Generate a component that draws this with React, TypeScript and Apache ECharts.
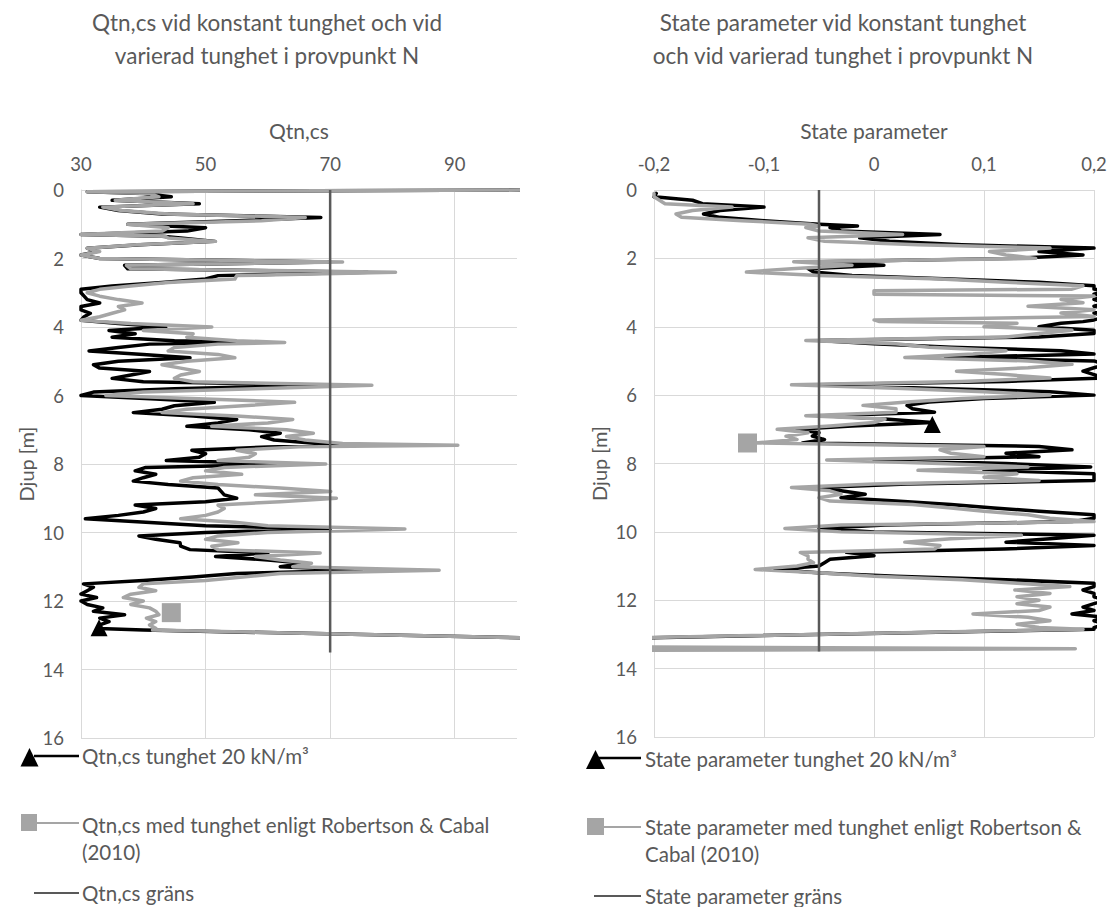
import React, { useEffect, useRef } from "react";
import * as echarts from "echarts";

// ---------- Left panel: Qtn,cs ----------
const depthQ = [
  0, 0.05, 0.1, 0.2, 0.3, 0.4, 0.5, 0.6, 0.7, 0.8, 0.9,
  1.0, 1.1, 1.2, 1.3, 1.35, 1.4, 1.5, 1.6, 1.7, 1.8, 1.9,
  2.0, 2.1, 2.2, 2.3, 2.4, 2.5, 2.6, 2.7, 2.8, 2.9,
  3.0, 3.1, 3.2, 3.3, 3.4, 3.5, 3.6, 3.7, 3.8, 3.9,
  4.0, 4.1, 4.2, 4.3, 4.4, 4.45, 4.5, 4.6, 4.7, 4.8, 4.9,
  5.0, 5.1, 5.2, 5.3, 5.4, 5.5, 5.6, 5.7, 5.8, 5.9,
  6.0, 6.1, 6.2, 6.3, 6.4, 6.5, 6.6, 6.7, 6.8, 6.9,
  7.0, 7.1, 7.2, 7.3, 7.4, 7.45, 7.5, 7.6, 7.7, 7.8, 7.9,
  8.0, 8.1, 8.2, 8.3, 8.4, 8.5, 8.6, 8.7, 8.8, 8.9,
  9.0, 9.1, 9.2, 9.3, 9.4, 9.5, 9.6, 9.7, 9.8, 9.9,
  10.0, 10.1, 10.2, 10.3, 10.4, 10.5, 10.6, 10.7, 10.8, 10.9,
  11.0, 11.1, 11.2, 11.3, 11.4, 11.5, 11.6, 11.7, 11.8, 11.9,
  12.0, 12.1, 12.2, 12.3, 12.4, 12.5, 12.6, 12.7, 12.8, 12.85, 13.1,
];
// Qtn,cs tunghet 20 kN/m3 (black)
const qtnConst = [
  103, 31, 40, 44.5, 35, 49, 33, 36, 43, 68.5, 55,
  37.5, 50, 47, 30, 43, 46, 51.5, 39.5, 31, 32.5, 30,
  33, 70, 37, 37.5, 76, 52, 50, 43, 35, 30,
  30, 30.5, 31, 33, 30, 30, 31.5, 30.5, 30, 36,
  43.6, 34.5, 38.7, 35, 45, 58, 41, 36, 31.3, 40, 47.5,
  36, 32, 33, 41, 38, 35, 40, 70, 45, 32,
  30, 42, 51.4, 45, 43, 38.4, 48, 55, 52, 47,
  57, 62, 59, 61, 68, 72, 60, 47.8, 50, 49, 43.7,
  65, 40.4, 38.7, 42, 40, 38.4, 44, 52, 52.5, 53,
  55, 50, 38.7, 42, 40, 36, 30.7, 40.4, 50, 70,
  50, 39.3, 42, 45.9, 46, 47.5, 60, 51.6, 60, 66,
  62, 75, 55, 48, 40, 30.4, 32, 31, 30, 32.5,
  30, 31, 33.5, 32, 37, 33, 34.5, 33, 32.9, 40, 108,
];
// Qtn,cs med tunghet enligt Robertson & Cabal (2010) (grey)
const qtnRC = [
  104, 31, 41, 42.5, 35.5, 48, 33.5, 36.5, 44, 66, 59,
  37.5, 44, 43, 30, 43.5, 44, 51.6, 39, 31, 33, 30,
  33, 72, 37.3, 38, 80.5, 55, 54.7, 44, 38, 33,
  31, 33, 36, 39.8, 36, 37, 35, 33, 30, 38,
  51, 40, 48, 47, 55, 62.7, 52, 45, 44, 52, 54.7,
  47, 43, 46, 49, 46, 45, 48, 76.7, 58, 40,
  34, 50, 64.3, 56, 47, 43, 55, 64, 60, 51,
  63, 67.3, 63, 66, 72, 90.5, 65, 55, 58, 57, 52,
  69.3, 53, 50, 55.8, 48, 46, 52, 62, 70.1, 58,
  71, 62, 52, 53, 52, 50, 46, 54.7, 60, 82,
  60, 52, 50, 55.2, 51, 52, 68.4, 58, 62, 67,
  64, 87.5, 62, 56, 50, 40, 39.3, 42, 38, 36.8,
  40, 38, 41, 42, 42.5, 40.5, 42, 41, 42, 41.5, 108,
];
const qtnLimit = 70;
const limitDepths = [0, 13.5];
const qtnConstMarker = [32.9, 12.78];
const qtnRCMarker = [44.5, 12.34];

// ---------- Right panel: State parameter ----------
const depthS = [
  0.1, 0.2, 0.3, 0.4, 0.5, 0.6, 0.7, 0.8, 0.9,
  1.0, 1.05, 1.1, 1.2, 1.3, 1.4, 1.5, 1.6, 1.7, 1.8, 1.9,
  2.0, 2.1, 2.2, 2.3, 2.4, 2.5, 2.6, 2.7, 2.8, 2.9, 2.95,
  3.05, 3.1, 3.2, 3.3, 3.4, 3.5, 3.6, 3.7, 3.8, 3.85, 3.9,
  4.0, 4.1, 4.2, 4.3, 4.4, 4.5, 4.6, 4.7, 4.8, 4.9,
  5.0, 5.1, 5.2, 5.3, 5.4, 5.5, 5.6, 5.7, 5.8, 5.9,
  6.0, 6.1, 6.2, 6.3, 6.4, 6.5, 6.6, 6.7, 6.8, 6.9,
  7.0, 7.1, 7.2, 7.3, 7.4, 7.5, 7.6, 7.7, 7.8, 7.9,
  8.0, 8.1, 8.2, 8.3, 8.4, 8.5, 8.6, 8.7, 8.8, 8.9,
  9.0, 9.1, 9.2, 9.3, 9.4, 9.5, 9.6, 9.7, 9.8, 9.9,
  10.0, 10.1, 10.2, 10.3, 10.4, 10.5, 10.6, 10.7, 10.8, 10.9,
  11.0, 11.1, 11.2, 11.3, 11.4, 11.5, 11.6, 11.7, 11.8, 11.9,
  12.0, 12.1, 12.2, 12.3, 12.4, 12.5, 12.6, 12.7, 12.8, 12.85,
  13.1, 13.36, 13.42, 13.47,
];
// State parameter tunghet 20 kN/m3 (black)
const stateConst: (number | null)[] = [
  -0.198, -0.2, -0.165, -0.156, -0.1, -0.14, -0.155, -0.14, -0.1,
  -0.05, -0.015, -0.04, -0.03, 0.06, -0.013, 0.014, 0.08, 0.2, 0.15, 0.19,
  0.128, -0.05, 0.009, -0.06, -0.055, -0.02, 0.07, 0.15, 0.2, 0.2, 0.21,
  0.2, 0.21, 0.2, 0.21, 0.2, 0.22, 0.2, 0.21, 0.2, 0.19, 0.17,
  0.15, 0.2, 0.2, 0.15, -0.05, 0.0, 0.07, 0.17, 0.2, 0.065,
  0.2, 0.21, 0.2, 0.19, 0.2, 0.21, 0.12, -0.05, 0.05, 0.16,
  0.2, 0.1, 0.05, 0.03, 0.035, 0.055, -0.045, 0.01, 0.053, -0.02,
  -0.07, -0.05, -0.056, -0.045, -0.065, 0.15, 0.18, 0.12, 0.15, 0.0,
  0.12, 0.197, 0.1, 0.2, 0.2, 0.2, 0.03, -0.05, -0.03, -0.008,
  -0.03, 0.02, 0.07, 0.109, 0.15, 0.2, 0.2, 0.18, 0.01, -0.05,
  0.0, 0.2, 0.16, 0.12, 0.2, 0.118, -0.025, 0.0, -0.04, -0.045,
  -0.05, -0.09, -0.048, 0.02, 0.12, 0.2, 0.2, 0.19, 0.2, 0.2,
  0.21, 0.2, 0.19, 0.2, 0.18, 0.21, 0.2, 0.21, 0.2, 0.2,
  -0.21, null, null, null,
];
// State parameter med tunghet enligt Robertson & Cabal (2010) (grey)
const stateRC: (number | null)[] = [
  -0.2, -0.2, -0.195, -0.19, -0.129, -0.165, -0.18, -0.175, -0.12,
  -0.058, -0.05, -0.062, -0.05, 0.026, -0.06, -0.045, 0.04, 0.16, 0.105, 0.12,
  0.147, -0.073, -0.02, -0.075, -0.116, -0.05, 0.06, 0.12, 0.19, 0.18, 0.0,
  0.0, 0.2, 0.17, 0.19, 0.14, 0.2, 0.17, 0.2, 0.0, 0.005, 0.13,
  0.1, 0.18, 0.15, 0.12, -0.062, 0.02, 0.05, 0.12, 0.09, 0.028,
  0.14, 0.18, 0.14, 0.075, 0.12, 0.16, 0.08, -0.075, 0.02, 0.1,
  0.16, 0.08, 0.03, -0.01, 0.02, 0.02, -0.062, 0.01, 0.0, -0.04,
  -0.088, -0.06, -0.08, -0.07, -0.108, 0.1, 0.06, 0.07, 0.1, -0.043,
  0.06, 0.14, 0.04, 0.13, 0.1, 0.15, 0.0, -0.075, -0.04, -0.03,
  -0.05, -0.04, 0.035, 0.07, 0.1, 0.14, 0.16, 0.2, -0.03, -0.081,
  -0.03, 0.134, 0.07, 0.028, 0.06, 0.055, -0.067, -0.06, -0.06, -0.055,
  -0.07, -0.108, -0.048, 0.0, 0.08, 0.13, 0.178, 0.128, 0.16, 0.13,
  0.15, 0.13, 0.16, 0.15, 0.09, 0.14, 0.16, 0.13, 0.15, 0.19,
  -0.22, -0.25, 0.183, -0.25,
];
const stateLimit = -0.05;
const stateConstMarker = [0.053, 6.86];
const stateRCMarker = [-0.115, 7.4];

const FONT = 'Lato, "Noto Sans", sans-serif';
const TXT = "#595959";
const GRID = "#D9D9D9";
const BLACK = "#000000";
const GREY = "#A5A5A5";
const LIMIT = "#595959";

function pairs(vals: (number | null)[], depths: number[]) {
  const out: [number, number][] = [];
  vals.forEach((v, i) => {
    if (v !== null && v !== undefined) out.push([v, depths[i]]);
  });
  return out;
}

function dataSeries(
  name: string,
  idx: number,
  vals: (number | null)[],
  depths: number[],
  color: string,
  marker: number[],
  symbol: string,
  size: number
) {
  return {
    type: "line",
    name,
    xAxisIndex: idx,
    yAxisIndex: idx,
    data: pairs(vals, depths),
    showSymbol: false,
    symbol: "none",
    clip: true,
    silent: true,
    lineStyle: { color, width: 3.5, join: "round", cap: "round" },
    itemStyle: { color },
    markPoint: {
      silent: true,
      symbol,
      symbolSize: size,
      itemStyle: { color },
      label: { show: false },
      data: [{ coord: marker }],
    },
    z: 3,
  };
}

function limitSeries(name: string, idx: number, x: number) {
  return {
    type: "line",
    name,
    xAxisIndex: idx,
    yAxisIndex: idx,
    data: limitDepths.map((d) => [x, d]),
    showSymbol: false,
    symbol: "none",
    silent: true,
    lineStyle: { color: LIMIT, width: 2.5 },
    z: 4,
  };
}

const commaFmt = (v: number) => String(Math.round(v * 10) / 10).replace(".", ",");

const yAxisBase = {
  type: "value",
  inverse: true,
  min: 0,
  max: 16,
  interval: 2,
  name: "Djup [m]",
  nameLocation: "middle",
  nameGap: 45,
  nameTextStyle: { color: TXT, fontSize: 20, fontFamily: FONT },
  axisLine: { show: true, lineStyle: { color: GRID, width: 1 } },
  axisTick: { show: false },
  axisLabel: { color: TXT, fontSize: 18.5, fontFamily: FONT, margin: 17 },
  splitLine: { show: true, lineStyle: { color: GRID, width: 1 } },
};

function legendText(x: number, y: number, text: string, top = false) {
  return {
    type: "text",
    x,
    y,
    silent: true,
    style: {
      text,
      fill: TXT,
      fontSize: 20.5,
      fontFamily: FONT,
      lineHeight: 27,
      align: "left",
      verticalAlign: top ? "top" : "middle",
    },
  };
}

function hLine(x1: number, x2: number, y: number, color: string, w: number) {
  return {
    type: "line",
    silent: true,
    shape: { x1, y1: y, x2, y2: y },
    style: { stroke: color, lineWidth: w },
  };
}

function titleText(x: number, text: string) {
  return {
    type: "text",
    x,
    y: 6,
    silent: true,
    style: {
      text,
      fill: TXT,
      fontSize: 22.5,
      fontFamily: FONT,
      lineHeight: 33,
      align: "center",
      verticalAlign: "top",
    },
  };
}

export default function App() {
  const ref = useRef<HTMLDivElement>(null);

  useEffect(() => {
    document.body.style.margin = "0";
    if (!ref.current) return;
    const chart = echarts.init(ref.current, undefined, { renderer: "svg" });

    const option: any = {
      animation: false,
      backgroundColor: "#ffffff",
      grid: [
        { left: 81, top: 190, width: 436, height: 548, containLabel: false, outerBoundsMode: "none" },
        { left: 654, top: 190, width: 440, height: 547, containLabel: false, outerBoundsMode: "none" },
      ],
      xAxis: [
        {
          type: "value",
          gridIndex: 0,
          position: "top",
          min: 30,
          max: 100,
          interval: 20,
          name: "Qtn,cs",
          nameLocation: "middle",
          nameGap: 49,
          nameTextStyle: { color: TXT, fontSize: 21, fontFamily: FONT },
          axisLine: { show: false },
          axisTick: { show: false },
          axisLabel: { color: TXT, fontSize: 18.5, fontFamily: FONT, margin: 17, showMaxLabel: false },
          splitLine: { show: true, showMaxLine: false, lineStyle: { color: GRID, width: 1 } },
        },
        {
          type: "value",
          gridIndex: 1,
          position: "top",
          min: -0.2,
          max: 0.2,
          interval: 0.1,
          name: "State parameter",
          nameLocation: "middle",
          nameGap: 49,
          nameTextStyle: { color: TXT, fontSize: 21, fontFamily: FONT },
          axisLine: { show: false },
          axisTick: { show: false },
          axisLabel: { color: TXT, fontSize: 18.5, fontFamily: FONT, margin: 17, formatter: commaFmt },
          splitLine: { show: true, lineStyle: { color: GRID, width: 1 } },
        },
      ],
      yAxis: [
        { ...yAxisBase, gridIndex: 0 },
        { ...yAxisBase, gridIndex: 1 },
      ],
      series: [
        dataSeries("Qtn,cs tunghet 20 kN/m³", 0, qtnConst, depthQ, BLACK, qtnConstMarker, "triangle", 17),
        dataSeries("Qtn,cs med tunghet enligt Robertson & Cabal (2010)", 0, qtnRC, depthQ, GREY, qtnRCMarker, "rect", 19),
        limitSeries("Qtn,cs gräns", 0, qtnLimit),
        dataSeries("State parameter tunghet 20 kN/m³", 1, stateConst, depthS, BLACK, stateConstMarker, "triangle", 17),
        dataSeries("State parameter med tunghet enligt Robertson & Cabal (2010)", 1, stateRC, depthS, GREY, stateRCMarker, "rect", 19),
        limitSeries("State parameter gräns", 1, stateLimit),
      ],
      graphic: [
        titleText(267, "Qtn,cs vid konstant tunghet och vid\nvarierad tunghet i provpunkt N"),
        titleText(843, "State parameter vid konstant tunghet\noch vid varierad tunghet i provpunkt N"),
        // left legend
        hLine(34, 79, 756, BLACK, 2.5),
        { type: "polygon", silent: true, shape: { points: [[20.5, 766.5], [29.5, 748], [38.5, 766.5]] }, style: { fill: BLACK } },
        legendText(82, 756, "Qtn,cs tunghet 20 kN/m³"),
        hLine(30, 79, 823, GREY, 2),
        { type: "rect", silent: true, shape: { x: 21, y: 814, width: 16, height: 17 }, style: { fill: GREY } },
        legendText(82, 811.5, "Qtn,cs med tunghet enligt Robertson & Cabal\n(2010)", true),
        hLine(34, 79, 893, LIMIT, 2),
        legendText(82, 893, "Qtn,cs gräns"),
        // right legend
        hLine(596, 641, 758, BLACK, 2.5),
        { type: "polygon", silent: true, shape: { points: [[586, 769], [595.5, 750], [605, 769]] }, style: { fill: BLACK } },
        legendText(645, 759, "State parameter tunghet 20 kN/m³"),
        hLine(596, 641, 827, GREY, 2),
        { type: "rect", silent: true, shape: { x: 587, y: 818, width: 17, height: 17 }, style: { fill: GREY } },
        legendText(645, 813.5, "State parameter med tunghet enligt Robertson &\nCabal (2010)", true),
        hLine(594, 641, 896, LIMIT, 2),
        legendText(645, 896, "State parameter gräns"),
      ],
    };

    chart.setOption(option);
    return () => chart.dispose();
  }, []);

  return <div ref={ref} style={{ width: 1115, height: 907 }} />;
}
